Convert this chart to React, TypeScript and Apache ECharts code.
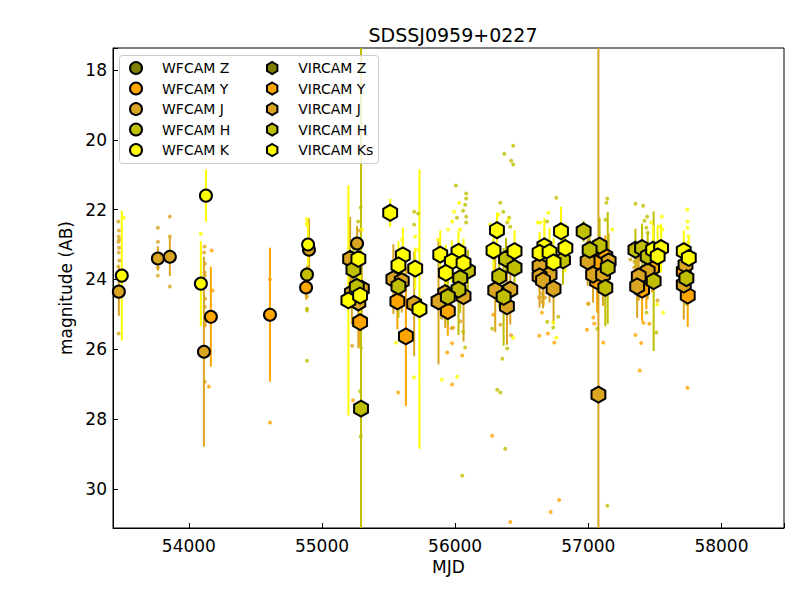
import React, { useEffect, useRef } from "react";
import * as echarts from "echarts";

const TITLE = "SDSSJ0959+0227";
const X_TICKS = [54000, 55000, 56000, 57000, 58000];
const Y_TICKS = [18, 20, 22, 24, 26, 28, 30];
const X_RANGE = [53430, 58470];
const Y_RANGE = [17.37, 31.12];

const BANDS = ["Z", "Y", "J", "H", "K"];
const BAND_COLORS: Record<string, string> = {
  Z: "#808000",
  Y: "#ffa500",
  J: "#daa520",
  H: "#bfbf00",
  K: "#ffff00",
};

// [MJD, magnitude, error]
const wfcamZ: number[][] = [];
const wfcamY = [[54165, 25.07, 1.43], [54609, 25.01, 1.92], [54880, 24.23, 0.35]];
const wfcamJ = [
  [53474, 24.35, 0.69], [53767, 23.4, 0.35], [53857, 23.35, 0.55], [54113, 26.07, 2.72],
  [54902, 23.15, 0.9], [55263, 22.97, 0.5],
];
const wfcamH = [[54887, 23.86, 0.25]];
const wfcamK = [[53496, 23.89, 1.86], [54128, 21.6, 0.75], [54090, 24.12, 1.22], [54895, 23.0, 0.6]];

const vircamZ: number[][] = [];
const vircamY = [
  [55286, 25.22, 0.7], [55566, 24.63, 0.8], [55630, 25.63, 2.0], [55945, 24.91, 0.7],
  [56664, 23.96, 0.8], [57128, 23.34, 0.6], [57053, 23.53, 0.7], [57066, 24.05, 0.9],
  [57479, 23.67, 0.7], [57436, 24.05, 0.8], [57404, 24.29, 0.9], [57717, 23.77, 0.6],
  [57747, 24.46, 0.9],
];
const vircamJ = [
  [55211, 23.41, 1.2], [55299, 24.27, 0.7], [55224, 24.39, 0.9], [55273, 24.66, 1.3],
  [55536, 23.99, 1.0], [55599, 24.05, 0.9], [55692, 24.7, 1.5],
  [55925, 24.39, 1.0], [55875, 24.63, 1.8], [56063, 24.48, 1.3],
  [56301, 24.31, 1.2], [56414, 24.29, 1.0], [56389, 24.77, 1.1],
  [56634, 23.62, 0.7], [56709, 23.86, 0.8], [56634, 23.91, 0.9], [56660, 24.03, 0.8], [56739, 24.27, 1.0],
  [56995, 23.48, 0.7], [57153, 23.48, 0.8], [57036, 23.86, 0.8], [57111, 23.86, 0.9], [57076, 27.3, 20],
  [57446, 23.77, 0.8], [57379, 23.91, 0.7], [57367, 24.2, 0.9],
  [57730, 23.58, 0.6], [57717, 24.15, 1.0],
];
const vircamH = [
  [55236, 23.72, 0.7], [55261, 24.21, 0.6], [55293, 27.7, 20],
  [55574, 24.2, 0.9],
  [56096, 23.75, 0.6], [56038, 23.96, 1.0], [56025, 24.29, 1.3], [55945, 24.5, 0.8],
  [56382, 23.41, 0.6], [56446, 23.67, 0.7], [56331, 23.91, 0.9], [56364, 24.5, 1.4],
  [56810, 23.45, 0.7],
  [56965, 22.62, 0.3], [57085, 23.03, 0.8], [57010, 23.15, 0.6], [57146, 23.67, 1.6], [57128, 24.24, 1.1],
  [57354, 23.15, 0.6], [57404, 23.1, 0.7], [57446, 23.34, 0.7], [57491, 24.05, 2.0],
  [57737, 23.96, 0.8],
];
const vircamK = [
  [55273, 23.41, 0.6], [55198, 24.6, 3.3], [55286, 24.46, 0.8],
  [55512, 22.09, 0.4], [55607, 23.31, 0.8], [55574, 23.6, 0.7], [55700, 23.69, 0.6], [55732, 24.85, 4.0],
  [55888, 23.29, 0.7], [56025, 23.21, 0.6], [55975, 23.48, 0.6], [56063, 23.53, 0.7], [55930, 23.81, 0.8],
  [56314, 22.59, 0.5], [56288, 23.17, 0.7], [56446, 23.19, 0.6],
  [56795, 22.62, 0.7], [56670, 23.05, 0.8], [56828, 23.1, 0.7], [56634, 23.24, 0.6], [56709, 23.22, 0.7], [56739, 23.51, 0.7],
  [57487, 23.15, 0.7], [57547, 23.1, 0.7], [57521, 23.34, 0.9],
  [57717, 23.19, 0.6], [57755, 23.38, 0.6],
];

// individual epochs [MJD, magnitude]
const dotsY = [
  [54171, 23.17], [54178, 24.32], [54150, 27.07], [54609, 24.0], [54609, 28.1],
  [55233, 27.46], [55572, 27.24],
  [55985, 25.38], [55977, 25.83], [55940, 26.09], [56053, 26.18], [55977, 27.01],
  [56286, 25.01], [56278, 28.48], [56414, 30.95],
  [56632, 25.61], [56697, 25.55], [56745, 25.81], [56652, 24.95], [56717, 30.66], [56781, 30.32],
  [57000, 24.69], [57038, 25.09], [57045, 25.26], [56990, 25.44], [57113, 25.81],
  [57354, 25.59], [57397, 25.82], [57414, 25.24], [57459, 25.27], [57386, 26.61],
  [57745, 27.1],
];
const dotsJ = [
  [53470, 22.34], [53474, 22.6], [53472, 22.77], [53476, 22.86], [53471, 22.92], [53475, 23.09],
  [53473, 23.23], [53477, 23.46], [53470, 23.63], [53472, 25.55],
  [53767, 22.52], [53767, 22.92], [53767, 23.66], [53767, 23.89],
  [53857, 22.2], [53857, 22.77], [53857, 24.2],
  [54118, 23.06], [54114, 23.23], [54120, 23.55], [54118, 23.8], [54120, 23.89], [54122, 24.55],
  [54120, 24.78], [54118, 25.24], [54120, 25.32], [54120, 26.93],
  [54887, 24.49],
  [55226, 25.9], [55280, 22.6],
  [55975, 25.4], [55900, 25.1], [56040, 25.2],
  [56652, 24.52], [56630, 24.52], [56675, 24.52], [56652, 24.4], [56652, 24.64],
  [57316, 23.43], [57346, 23.49], [57376, 23.37], [57346, 23.32], [57346, 23.66],
  [56340, 25.3], [56420, 25.6], [57000, 24.7], [57520, 24.6],
];
const dotsH = [
  [54887, 24.84], [54887, 24.89], [54887, 26.33],
  [55291, 21.94], [55271, 22.34], [55293, 25.96], [55286, 27.2], [55291, 28.5],
  [55692, 22.06], [55722, 22.11], [55692, 22.43],
  [56005, 21.31], [56083, 21.54], [56083, 21.68], [56075, 21.86], [56060, 22.03], [56083, 22.2],
  [56083, 22.37], [56013, 22.23], [56060, 25.5], [56075, 25.95], [56053, 29.62],
  [56436, 20.17], [56369, 20.4], [56421, 20.6], [56436, 20.71], [56339, 21.8], [56361, 22.06],
  [56406, 22.23], [56391, 22.37], [56414, 22.49], [56278, 25.41], [56391, 25.98], [56354, 26.27],
  [56316, 27.16], [56339, 27.24], [56376, 28.85],
  [56760, 21.66], [56690, 22.34], [56692, 25.21], [56737, 25.38], [56775, 25.07],
  [57143, 21.68], [57136, 21.8], [57128, 22.29], [57068, 25.41], [57143, 30.48],
  [57354, 21.83], [57412, 21.89], [57442, 22.2], [57422, 22.32], [57437, 22.52], [57446, 22.66],
  [57512, 25.52], [57437, 24.95],
];
const dotsK = [
  [53511, 22.23], [54090, 22.69], [54887, 22.26], [54887, 22.37], [54887, 22.43],
  [55248, 22.86], [55301, 22.57],
  [55692, 26.81], [55556, 25.81], [55700, 22.77], [55602, 22.86], [55722, 23.15],
  [56030, 21.8], [55992, 22.06], [56037, 22.57], [56015, 26.79], [55900, 26.87], [55947, 22.57],
  [55977, 22.34], [55873, 22.86],
  [56436, 25.67], [56263, 22.43], [56324, 22.14], [56400, 22.3],
  [56700, 22.09], [56640, 22.37], [56620, 22.37], [56737, 25.24], [56760, 25.67],
  [57181, 22.57],
  [57472, 22.37], [57552, 22.2], [57542, 22.49], [57557, 22.57], [57517, 24.72], [57562, 24.95],
  [57743, 22.0], [57745, 22.34], [57745, 22.52], [57752, 22.77], [57745, 22.95],
];

const WFCAM: Record<string, number[][]> = { Z: wfcamZ, Y: wfcamY, J: wfcamJ, H: wfcamH, K: wfcamK };
const VIRCAM: Record<string, number[][]> = { Z: vircamZ, Y: vircamY, J: vircamJ, H: vircamH, K: vircamK };
const DOTS: Record<string, number[][]> = { Y: dotsY, J: dotsJ, H: dotsH, K: dotsK };
const WFCAM_NAMES: Record<string, string> = { Z: "WFCAM Z", Y: "WFCAM Y", J: "WFCAM J", H: "WFCAM H", K: "WFCAM K" };
const VIRCAM_NAMES: Record<string, string> = { Z: "VIRCAM Z", Y: "VIRCAM Y", J: "VIRCAM J", H: "VIRCAM H", K: "VIRCAM Ks" };

const HEX = "path://M0,-10 L8.66,-5 L8.66,5 L0,10 L-8.66,5 L-8.66,-5 Z";
const FONT = "'DejaVu Sans', sans-serif";

function errRender(color: string) {
  return (params: any, api: any) => {
    const x = api.value(0);
    const y = api.value(1);
    const e = api.value(2);
    const cs = params.coordSys;
    const p1 = api.coord([x, y - e]);
    const p2 = api.coord([x, y + e]);
    const top = cs.y;
    const bot = cs.y + cs.height;
    const y1 = Math.max(top, Math.min(bot, p1[1]));
    const y2 = Math.max(top, Math.min(bot, p2[1]));
    return {
      type: "line",
      shape: { x1: p1[0], y1, x2: p1[0], y2 },
      style: { stroke: color, lineWidth: 2 },
      silent: true,
    };
  };
}

export default function App() {
  const ref = useRef<HTMLDivElement>(null);

  useEffect(() => {
    if (!ref.current) return;
    const chart = echarts.init(ref.current, null, { renderer: "svg" });

    const series: any[] = [];
    ["Y", "J", "H", "K"].forEach((b) => {
      series.push({
        name: "dots " + b,
        type: "scatter",
        data: DOTS[b],
        symbol: "circle",
        symbolSize: 4,
        itemStyle: { color: BAND_COLORS[b] },
        silent: true,
        z: 2,
      });
    });
    const addInstrument = (src: Record<string, number[][]>, names: Record<string, string>, symbol: string, size: number) => {
      BANDS.forEach((b) => {
        series.push({
          name: names[b] + " err",
          type: "custom",
          renderItem: errRender(BAND_COLORS[b]),
          data: src[b],
          encode: { x: 0, y: 1 },
          z: 2,
        });
        series.push({
          name: names[b],
          type: "scatter",
          data: src[b].map((d) => [d[0], d[1]]),
          symbol,
          symbolSize: size,
          symbolKeepAspect: true,
          itemStyle: { color: BAND_COLORS[b], borderColor: "#000", borderWidth: 2, opacity: 1 },
          z: 2,
        });
      });
    };
    addInstrument(WFCAM, WFCAM_NAMES, "circle", 12);
    addInstrument(VIRCAM, VIRCAM_NAMES, HEX, 16);

    const legendBase = {
      orient: "vertical",
      top: 61,
      itemWidth: 42,
      itemHeight: 12,
      itemGap: 6.5,
      padding: 0,
      textStyle: { fontSize: 14, fontFamily: FONT, color: "#000", lineHeight: 14 },
      selectedMode: false,
      z: 4,
    };

    chart.setOption({
      animation: false,
      backgroundColor: "#fff",
      title: {
        text: TITLE,
        left: 448,
        top: 20,
        textAlign: "center",
        textStyle: { fontSize: 19, fontWeight: "normal", color: "#000", fontFamily: FONT },
      },
      grid: { left: 113, right: 16, top: 48, bottom: 72, show: true, borderColor: "#000", borderWidth: 1, backgroundColor: "transparent" },
      xAxis: {
        type: "value",
        min: X_RANGE[0],
        max: X_RANGE[1],
        splitNumber: 5,
        name: "MJD",
        nameLocation: "middle",
        nameGap: 28,
        nameTextStyle: { fontSize: 17, color: "#000", fontFamily: FONT },
        axisLine: { lineStyle: { color: "#000", width: 1 } },
        axisTick: { inside: true, length: 5, lineStyle: { color: "#000" } },
        splitLine: { show: false },
        axisLabel: {
          margin: 9,
          fontSize: 17,
          color: "#000",
          fontFamily: FONT,
          formatter: (v: number) => (X_TICKS.includes(v) ? String(v) : ""),
        },
      },
      yAxis: {
        type: "value",
        inverse: true,
        min: Y_RANGE[0],
        max: Y_RANGE[1],
        splitNumber: 7,
        name: "magnitude (AB)",
        nameLocation: "middle",
        nameGap: 38,
        nameTextStyle: { fontSize: 17, color: "#000", fontFamily: FONT },
        axisLine: { lineStyle: { color: "#000", width: 1 } },
        axisTick: { inside: true, length: 5, lineStyle: { color: "#000" } },
        splitLine: { show: false },
        axisLabel: {
          margin: 6,
          fontSize: 17,
          color: "#000",
          fontFamily: FONT,
          formatter: (v: number) => (Y_TICKS.includes(v) ? String(v) : ""),
        },
      },
      legend: [
        {
          ...legendBase,
          left: 129,
          data: BANDS.map((b) => ({ name: WFCAM_NAMES[b], icon: "circle" })),
        },
        {
          ...legendBase,
          left: 266,
          data: BANDS.map((b) => ({ name: VIRCAM_NAMES[b], icon: HEX })),
        },
      ],
      graphic: [
        {
          type: "rect",
          z: 3,
          shape: { x: 119.5, y: 55.5, width: 259, height: 108, r: 3 },
          style: { fill: "rgba(255,255,255,0.8)", stroke: "#cccccc", lineWidth: 1 },
          silent: true,
        },
      ],
      series,
    });

    return () => chart.dispose();
  }, []);

  return <div ref={ref} style={{ position: "fixed", left: 0, top: 0, width: 800, height: 600, background: "#fff" }} />;
}
